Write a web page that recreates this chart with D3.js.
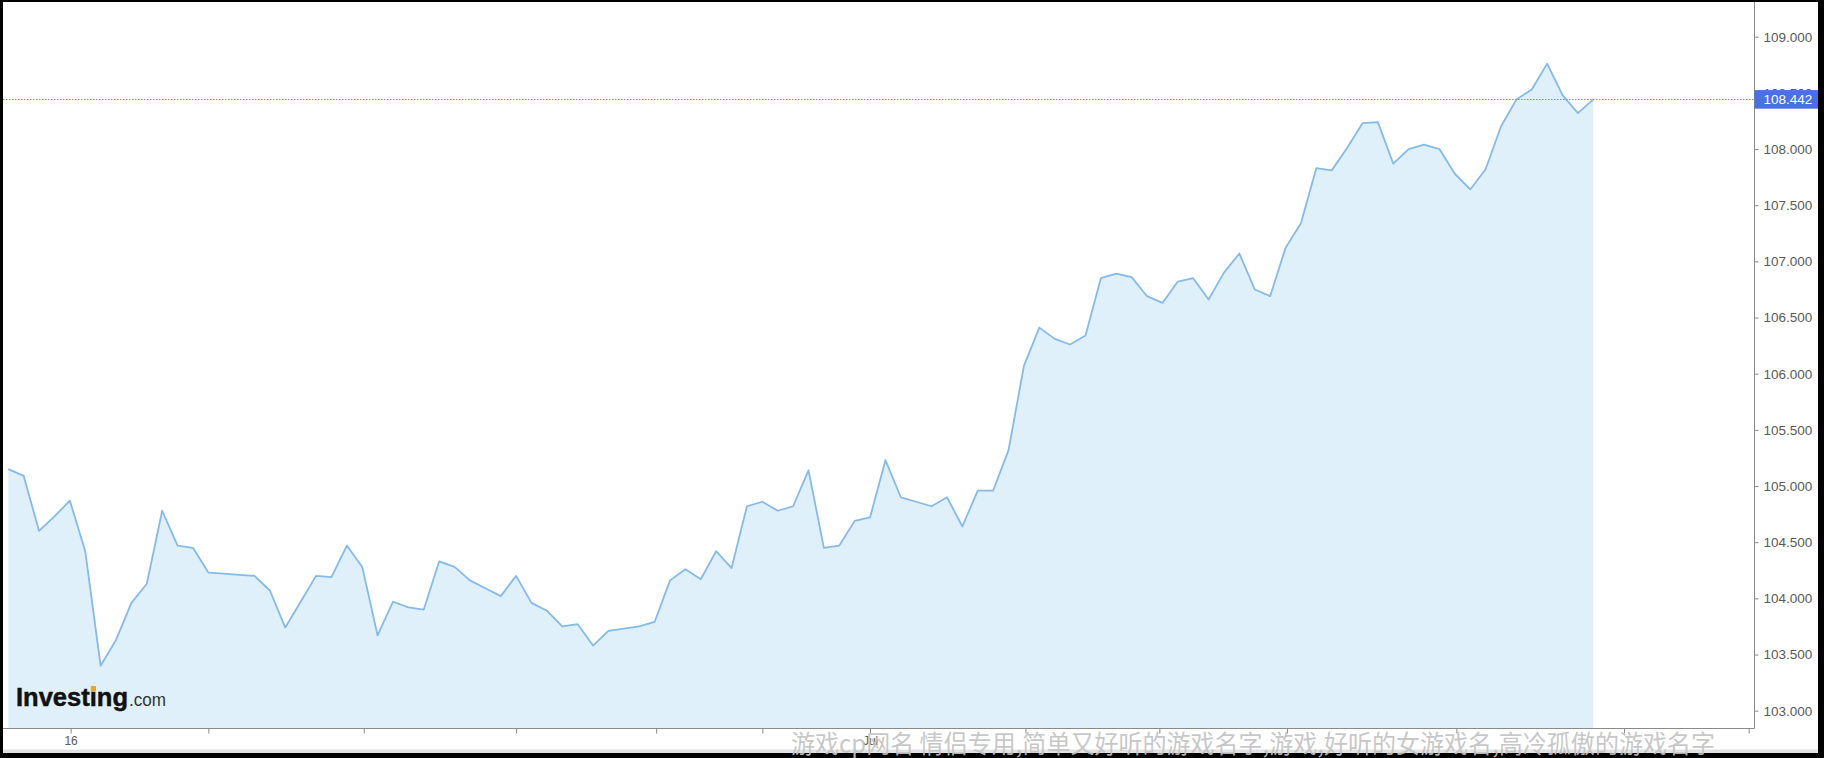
<!DOCTYPE html>
<html>
<head>
<meta charset="utf-8">
<script src="https://cdn.jsdelivr.net/npm/d3@7"></script>
<style>
  html, body { margin: 0; padding: 0; background: #000; }
  svg { display: block; }
</style>
</head>
<body>
<svg id="chart" width="1824" height="758"></svg>
<script>
// ---- data ----
const prices = [
  105.15, 105.09, 104.60, 104.73, 104.87, 104.42, 103.40, 103.63, 103.96, 104.13,
  104.78, 104.47, 104.45, 104.23, 104.22, 104.21, 104.20, 104.07, 103.74, 103.97,
  104.20, 104.19, 104.47, 104.28, 103.67, 103.97, 103.92, 103.90, 104.33, 104.28,
  104.16, 104.09, 104.02, 104.20, 103.96, 103.89, 103.75, 103.77, 103.58, 103.71,
  103.73, 103.75, 103.79, 104.16, 104.26, 104.17, 104.42, 104.27, 104.82, 104.86,
  104.78, 104.82, 105.14, 104.45, 104.47, 104.69, 104.72, 105.23, 104.90, 104.86,
  104.82, 104.90, 104.64, 104.96, 104.96, 105.32, 106.07, 106.41, 106.31, 106.26,
  106.34, 106.85, 106.89, 106.86, 106.69, 106.63, 106.82, 106.85, 106.66, 106.90,
  107.07, 106.75, 106.69, 107.12, 107.34, 107.83, 107.81, 108.01, 108.23, 108.24,
  107.87, 108.00, 108.04, 108.00, 107.78, 107.64, 107.82, 108.20, 108.44, 108.53,
  108.76, 108.48, 108.32, 108.442
];
const lastPrice = 108.442;
const yTickValues = [103, 103.5, 104, 104.5, 105, 105.5, 106, 106.5, 107, 107.5, 108, 108.5, 109];
const xTickIndex  = [4.05, 13, 23.1, 33, 42.1, 49, 56, 66.1, 74.8, 83.1, 94.1, 105, 113.1];
const xTickLabels = ["16", "", "", "", "", "", "Jul", "", "", "", "", "", ""];
const logoMain = "Investing";
const logoSuffix = ".com";
const watermark = "游戏cp网名 情侣专用,简单又好听的游戏名字,游戏,好听的女游戏名,高冷孤傲的游戏名字";

// ---- layout ----
const W = 1824, H = 758;
const frame = {left: 3, top: 2, right: 1818, bottom: 753};
const axisX = 1754.5, axisY = 728.5;

const svg = d3.select("#chart");

const x = d3.scaleLinear().domain([0, prices.length - 1]).range([8.3, 1593.3]);
const y = d3.scaleLinear().domain([103, 109]).range([710.7, 36.7]);

// frame
svg.append("rect").attr("x", 0).attr("y", 0).attr("width", W).attr("height", H).attr("fill", "#000");
svg.append("rect").attr("x", frame.left).attr("y", frame.top)
  .attr("width", frame.right - frame.left).attr("height", frame.bottom - frame.top)
  .attr("fill", "#fff");
svg.append("rect").attr("x", frame.left).attr("y", 749.5)
  .attr("width", frame.right - frame.left).attr("height", frame.bottom - 749.5)
  .attr("fill", "#e2e2e2");

// area + line
const area = d3.area()
  .x((d, i) => x(i))
  .y0(axisY)
  .y1(d => y(d));
const line = d3.line()
  .x((d, i) => x(i))
  .y(d => y(d));

svg.append("path").datum(prices).attr("d", area).attr("fill", "#e0f0fa");
svg.append("path").datum(prices).attr("d", line)
  .attr("fill", "none").attr("stroke", "#85baeb").attr("stroke-width", 1.8)
  .attr("stroke-linejoin", "round");

// logo
const logo = svg.append("text")
  .attr("x", 16).attr("y", 706)
  .attr("font-family", "'Liberation Sans', Arial, sans-serif");
logo.append("tspan").attr("font-weight", "bold").attr("font-size", 26)
  .attr("fill", "#111").attr("stroke", "#111").attr("stroke-width", 0.5)
  .attr("textLength", 112).attr("lengthAdjust", "spacingAndGlyphs").text(logoMain);
logo.append("tspan").attr("x", 129).attr("font-size", 17.5).attr("fill", "#333")
  .attr("textLength", 37).attr("lengthAdjust", "spacingAndGlyphs").text(logoSuffix);
try {
  const ext = logo.node().getExtentOfChar(6);
  svg.append("rect")
    .attr("x", ext.x + ext.width / 2 - 2.4).attr("y", 686)
    .attr("width", 5).attr("height", 5.5)
    .attr("fill", "#f7a21b");
} catch (e) {}

// current price dotted line
svg.append("line")
  .attr("x1", frame.left).attr("x2", axisX)
  .attr("y1", Math.round(y(lastPrice)) + 0.5).attr("y2", Math.round(y(lastPrice)) + 0.5)
  .attr("stroke", "#6a8ef0").attr("stroke-width", 1).attr("stroke-dasharray", "1.5,1.5");

// y axis (right)
const yAxis = d3.axisRight(y)
  .tickValues(yTickValues)
  .tickFormat(d3.format(".3f"))
  .tickSize(4).tickPadding(5);
const gy = svg.append("g").attr("transform", `translate(${axisX},0)`).call(yAxis);
gy.select(".domain").remove();
gy.selectAll(".tick line").attr("stroke", "#8a8a8a");
gy.selectAll(".tick text").attr("fill", "#5a5a5a")
  .attr("font-family", "'Liberation Sans', Arial, sans-serif").attr("font-size", 13.5);
svg.append("line").attr("x1", axisX).attr("x2", axisX).attr("y1", frame.top).attr("y2", axisY)
  .attr("stroke", "#8a8a8a").attr("stroke-width", 1);

// x axis (bottom)
const xAxis = d3.axisBottom(x)
  .tickValues(xTickIndex)
  .tickFormat((d, i) => xTickLabels[i])
  .tickSize(5).tickPadding(3);
const gx = svg.append("g").attr("transform", `translate(0,${axisY})`).call(xAxis);
gx.select(".domain").remove();
gx.selectAll(".tick line").attr("stroke", "#8a8a8a");
gx.selectAll(".tick text").attr("fill", "#5a5a5a")
  .attr("font-family", "'Liberation Sans', Arial, sans-serif").attr("font-size", 12);
svg.append("line").attr("x1", frame.left).attr("x2", axisX).attr("y1", axisY).attr("y2", axisY)
  .attr("stroke", "#8a8a8a").attr("stroke-width", 1);

// current price label
const py = y(lastPrice);
svg.append("rect")
  .attr("x", axisX).attr("y", py - 9.3)
  .attr("width", frame.right - axisX).attr("height", 18.6)
  .attr("fill", "#4a70e6");
svg.append("text")
  .attr("x", axisX + 9).attr("y", py).attr("dy", "0.35em")
  .attr("fill", "#fff")
  .attr("font-family", "'Liberation Sans', Arial, sans-serif").attr("font-size", 13.5)
  .text(d3.format(".3f")(lastPrice));

// watermark
svg.append("text")
  .attr("x", 791).attr("y", 753)
  .attr("font-family", "'Noto Sans CJK SC', sans-serif").attr("font-size", 25)
  .attr("fill", "#c2c2c2").attr("fill-opacity", 0.92)
  .attr("textLength", 924).attr("lengthAdjust", "spacingAndGlyphs")
  .text(watermark);
</script>
</body>
</html>
